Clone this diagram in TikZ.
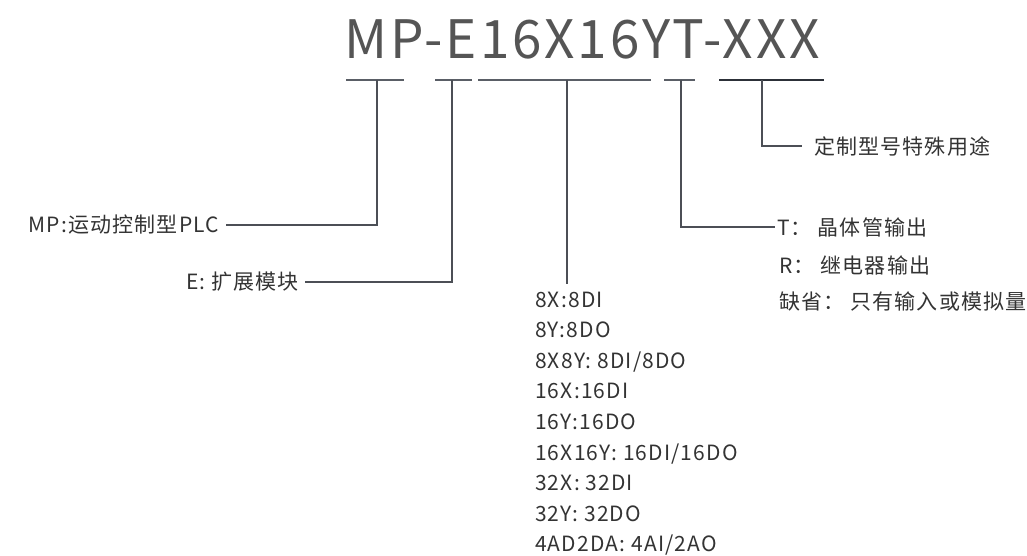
\documentclass[tikz,border=0pt]{standalone}
\usepackage{fontspec}
\setmainfont{Noto Sans CJK SC}[LetterSpace=5.5]
\definecolor{titlec}{HTML}{555555}
\definecolor{linec}{HTML}{5A5E66}
\definecolor{darkline}{HTML}{2C3038}
\definecolor{txt}{HTML}{333333}
\begin{document}
\begin{tikzpicture}[x=1pt,y=-1pt,
  bar/.style={line width=1.4pt, draw=linec},
  darkbar/.style={line width=1.6pt, draw=darkline},
  conn/.style={line width=1.4pt, draw=darkline!85!white},
  lbl/.style={font=\fontsize{21}{30.6}\selectfont, text=txt, inner sep=0pt},
  titletext/.style={font=\fontsize{53}{53}\selectfont, text=titlec, inner sep=0pt}]
\useasboundingbox (0,0) rectangle (1027,556);
% title
\node[titletext, anchor=base] (title) at (582,59) {MP-E16X16YT-XXX};
% bars under the title
\coordinate (b1l) at (346,80); \coordinate (b1r) at (404,80); \coordinate (v1) at (377,80);
\coordinate (b2l) at (435,80); \coordinate (b2r) at (472,80); \coordinate (v2) at (452,80);
\coordinate (b3l) at (478,80); \coordinate (b3r) at (651,80); \coordinate (v3) at (567,80);
\coordinate (b4l) at (664,80); \coordinate (b4r) at (695,80); \coordinate (v4) at (681,80);
\coordinate (b5l) at (719,80); \coordinate (b5r) at (824,80); \coordinate (v5) at (762,80);
\draw[bar] (b1l) -- (b1r);
\draw[bar] (b2l) -- (b2r);
\draw[bar] (b3l) -- (b3r);
\draw[bar] (b4l) -- (b4r);
\draw[darkbar] (b5l) -- (b5r);
% labels
\node[lbl, anchor=east, inner xsep=7pt] (mp) at (226,225) {MP:运动控制型PLC};
\node[lbl, anchor=east, inner xsep=6pt] (e) at (305,282) {E: 扩展模块};
\node[lbl, anchor=north west, align=left] (list) at (535,291.5)
  {8X:8DI\\8Y:8DO\\8X8Y: 8DI/8DO\\16X:16DI\\16Y:16DO\\16X16Y: 16DI/16DO\\32X: 32DI\\32Y: 32DO\\4AD2DA: 4AI/2AO};
\coordinate (listtop) at (567,284);
\node[lbl, anchor=west, inner xsep=2pt] (t) at (775,227) {T： 晶体管输出};
\node[lbl, anchor=west] (r) at (779,265) {R： 继电器输出};
\node[lbl, anchor=west] (qs) at (779,302) {缺省： 只有输入或模拟量};
\node[lbl, anchor=west, inner xsep=12pt] (dz) at (802,146) {定制型号特殊用途};
% connectors
\draw[conn] (v1) |- (mp.east);
\draw[conn] (v2) |- (e.east);
\draw[conn] (v3) -- (listtop);
\draw[conn] (v4) |- (t.west);
\draw[conn] (v5) |- (dz.west);
\end{tikzpicture}
\end{document}
